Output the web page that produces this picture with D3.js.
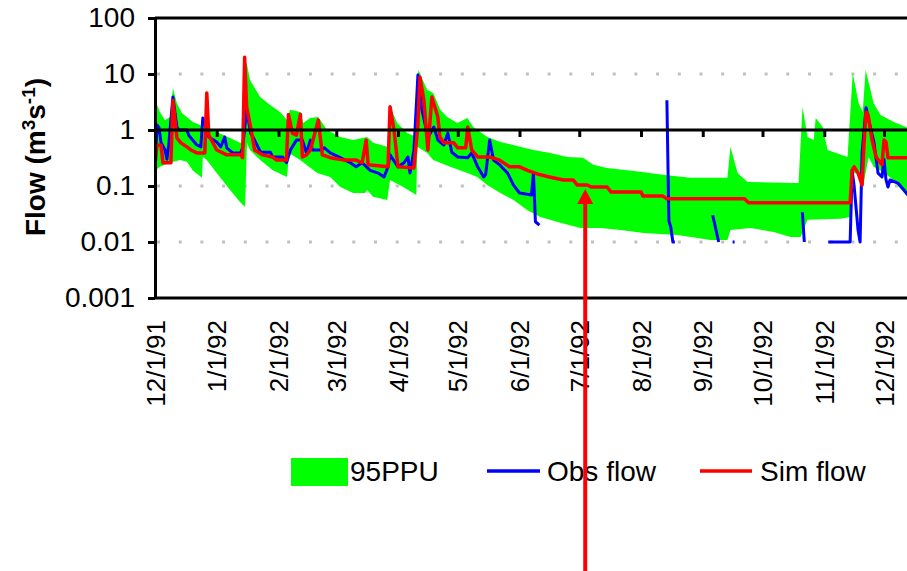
<!DOCTYPE html>
<html>
<head>
<meta charset="utf-8">
<script src="https://cdn.jsdelivr.net/npm/d3@7"></script>
<style>
  html, body { margin: 0; padding: 0; background: #fff; overflow: hidden; }
  svg { display: block; font-family: "Liberation Sans", Arial, Helvetica, sans-serif; }
</style>
</head>
<body>
<svg id="chart" width="907" height="571"></svg>
<script>
// ---- Data -------------------------------------------------------------
// Daily record starting 1 December 1991; x values are days since that date.
const startDate = new Date(1991, 11, 1);

const dateLabels = ["12/1/91", "1/1/92", "2/1/92", "3/1/92", "4/1/92", "5/1/92",
  "6/1/92", "7/1/92", "8/1/92", "9/1/92", "10/1/92", "11/1/92", "12/1/92"];

const yTickValues = [0.001, 0.01, 0.1, 1, 10, 100];
const yTickLabels = ["0.001", "0.01", "0.1", "1", "10", "100"];
const seriesNames = ["95PPU", "Obs flow", "Sim flow"];

// 95% prediction uncertainty band: upper and lower envelopes [day, m3/s]
const bandUpper = [
  [0, 3.4], [2.5, 2.1], [5, 1.5], [7.5, 1.7], [9, 5.6], [11, 3.0], [13.6, 2.0], [16, 1.7],
  [19, 1.39], [22.6, 1.23], [24, 1.09], [26, 1.5], [27.6, 1.0], [31, 0.92], [37.7, 0.72],
  [42.7, 0.59], [44.5, 0.59], [45.2, 16], [46.2, 15], [47.7, 7.8], [52.8, 3.9], [57.8, 2.8],
  [62.8, 2.1], [66.3, 1.5], [67.8, 2.3], [72.9, 2.1], [74.4, 1.33], [77.9, 1.64], [81.9, 1.7],
  [86.4, 1.0], [93, 0.75], [99.5, 0.66], [106.5, 0.75], [109.5, 0.59], [116.6, 0.5],
  [118, 2.6], [121.6, 1.33], [126.6, 0.88], [131.2, 0.75], [132.2, 11.8], [136.7, 5.2],
  [139.7, 4.6], [143.2, 2.3], [146.7, 1.7], [151.8, 1.33], [156.8, 1.64], [159.8, 1.13],
  [166.8, 0.75], [173.4, 0.61], [183.4, 0.5], [190, 0.44], [198.5, 0.39], [207, 0.33],
  [215, 0.32], [220, 0.24], [227, 0.21], [243.7, 0.18], [253.8, 0.16], [268.8, 0.14],
  [287.4, 0.14], [288.9, 0.5], [292.5, 0.17], [297.5, 0.118], [320.6, 0.113], [323.1, 0.113],
  [325.1, 2.6], [327.6, 0.75], [330.7, 0.66], [331.7, 1.64], [335.2, 1.13], [337.7, 0.44],
  [347.7, 0.33], [350.3, 10.4], [353.3, 3.0], [355.3, 2.1], [356.8, 11.8], [360.8, 3.0],
  [364.3, 1.85], [370.9, 1.39], [377.9, 1.09]
];
const bandLower = [
  [0, 0.19], [2.5, 0.22], [7.5, 0.26], [12.6, 0.29], [16, 0.27], [19, 0.19], [23.6, 0.14],
  [24, 0.33], [26, 0.29], [31, 0.17], [37.7, 0.085], [42.7, 0.052], [45.2, 0.042],
  [46.2, 0.59], [47.7, 0.44], [52.8, 0.29], [59.3, 0.19], [66.3, 0.145], [67.3, 0.39],
  [72.9, 0.29], [81.4, 0.17], [88, 0.145], [93, 0.096], [99.5, 0.075], [105.5, 0.075],
  [106.5, 0.085], [109.5, 0.064], [116.6, 0.056], [118, 0.128], [124.6, 0.096],
  [129.6, 0.075], [131.2, 0.069], [131.7, 0.5], [136.7, 0.39], [139.7, 0.29], [148.2, 0.22],
  [156.8, 0.17], [161.8, 0.145], [166.8, 0.104], [173.4, 0.075], [180, 0.056], [187, 0.037],
  [193.5, 0.028], [203.5, 0.022], [213.6, 0.0178], [223.6, 0.0178], [233.7, 0.0164],
  [245.2, 0.0145], [262.3, 0.0133], [272.4, 0.0118], [278.9, 0.0109], [287.4, 0.0109],
  [288.9, 0.0164], [299, 0.0178], [310.6, 0.0151], [319.1, 0.0123], [324.1, 0.0123],
  [327.6, 0.025], [344.2, 0.026], [349.2, 0.028], [350.8, 0.17], [354.3, 0.16],
  [355.8, 0.113], [358.3, 0.33], [360.8, 0.22], [364.3, 0.19], [369.3, 0.14], [377.9, 0.064]
];

// Observed flow [day, m3/s]; null marks days without a record
const obsFlow = [
  [0, 0.18], [1, 1.23], [2, 1.1], [3, 0.6], [5, 0.44], [6, 0.3], [7, 0.6], [9, 3.9],
  [11, 1.13], [12, 1.0], [16, 1.0], [17, 0.8], [21, 0.54], [23, 0.5], [24, 1.64], [26, 1.0],
  [27, 0.75], [31, 0.61], [33, 0.5], [35, 0.75], [36, 0.48], [39, 0.39], [43, 0.39],
  [44, 0.48], [46, 2.3], [48, 0.88], [50, 0.66], [53, 0.4], [58, 0.4], [59, 0.33], [64, 0.33],
  [66, 0.26], [68, 0.44], [71, 0.66], [74, 0.66], [76, 0.39], [78, 0.66], [79, 0.44],
  [83, 0.44], [85, 0.48], [88, 0.39], [93, 0.32], [98, 0.26], [101, 0.22], [104, 0.26],
  [108, 0.19], [112, 0.17], [115, 0.145], [117, 0.22], [118, 0.36], [122, 0.22], [125, 0.26],
  [127, 0.33], [128, 0.17], [130, 0.44], [132, 9.6], [134, 2.3], [137, 0.75], [138, 0.85],
  [140, 1.13], [142, 0.66], [145, 0.54], [147, 0.88], [149, 0.4], [152, 0.33], [157, 0.32],
  [159, 0.39], [162, 0.22], [165, 0.145], [166, 0.16], [168, 0.66], [170, 0.29], [173, 0.24],
  [177, 0.17], [180, 0.104], [183, 0.075], [189, 0.069], [190, 0.17], [191, 0.023],
  [193, 0.02], [194, null],
  [257, 3.4], [258, 0.024], [259, 0.018], [260, 0.01], [261, 0.01], [262, null],
  [280, 0.03], [283, 0.01], [284, null],
  [290, 0.01], [291, 0.01], [292, null],
  [325, 0.034], [326, 0.01], [327, null],
  [338, 0.01], [349, 0.01], [350, 0.19], [351, 0.1], [353, 0.016], [354, 0.01], [355, 0.4],
  [357, 2.5], [358, 1.7], [361, 0.59], [363, 0.17], [365, 0.145], [366, 0.3], [367, 0.13],
  [368, 0.096], [369, 0.128], [373, 0.113], [376, 0.085], [378, 0.069]
];

// Simulated flow [day, m3/s]
const simFlow = [
  [0, 0.24], [1, 0.54], [3, 0.54], [4, 0.26], [8, 0.26], [9, 3.4], [11, 0.72], [13, 0.59],
  [16, 0.5], [18, 0.44], [21, 0.39], [25, 0.39], [26, 4.6], [27, 0.81], [31, 0.44],
  [36, 0.36], [43, 0.36], [44, 0.32], [45, 20], [46, 2.6], [48, 1.13], [50, 0.44],
  [54, 0.36], [59, 0.33], [61, 0.29], [66, 0.29], [67, 1.9], [69, 0.88], [71, 0.81],
  [73, 1.9], [74, 0.33], [76, 0.36], [78, 0.44], [82, 1.5], [84, 0.36], [88, 0.32],
  [95, 0.29], [101, 0.29], [104, 0.26], [106, 0.66], [107, 0.24], [117, 0.22], [118, 2.6],
  [120, 1.0], [122, 0.22], [130, 0.21], [132, 1.23], [133, 8.8], [135, 3.4], [137, 0.44],
  [139, 3.9], [142, 1.7], [143, 0.75], [145, 0.59], [150, 0.59], [152, 0.48], [156, 0.48],
  [157, 1.13], [159, 0.44], [162, 0.33], [168, 0.33], [173, 0.29], [178, 0.22], [183, 0.22],
  [187, 0.19], [193, 0.16], [198, 0.145], [205, 0.128], [210, 0.128], [212, 0.104],
  [217, 0.104], [219, 0.096], [227, 0.096], [229, 0.078], [244, 0.078], [245, 0.066],
  [255, 0.066], [257, 0.059], [296, 0.059], [298, 0.05], [349, 0.05], [350, 0.19],
  [351, 0.22], [353, 0.17], [355, 0.104], [356, 0.59], [357, 2.1], [358, 1.85], [360, 0.66],
  [362, 0.33], [365, 0.24], [366, 0.66], [367, 0.61], [368, 0.32], [378, 0.32]
];

// Annotation arrow pointing at the simulated low flow in early July 1992
const arrowDay = 216;
const arrowFlow = 0.088;

// ---- Layout ------------------------------------------------------------
const W = 907, H = 571;
const plot = { left: 155, top: 18, bottom: 298, right: 907 };
const colors = { band: "#00ff00", obs: "#0000ff", sim: "#ff0000", grid: "#c0c0c0" };

const parseLabel = d3.timeParse("%m/%d/%y");
const monthDays = dateLabels.map(s => d3.timeDay.count(startDate, parseLabel(s)));

const x = d3.scaleLinear().domain([0, 366]).range([plot.left, 884]);
const y = d3.scaleLog().domain([0.001, 100]).range([plot.bottom, plot.top]);

const svg = d3.select("#chart");

svg.append("defs").append("clipPath").attr("id", "plotClip")
  .append("rect")
  .attr("x", plot.left).attr("y", plot.top - 2)
  .attr("width", plot.right - plot.left).attr("height", plot.bottom - plot.top + 4);

// dotted gridlines
svg.append("g").selectAll("line")
  .data([10, 0.1, 0.01])
  .join("line")
  .attr("x1", plot.left).attr("x2", plot.right)
  .attr("y1", d => y(d)).attr("y2", d => y(d))
  .attr("stroke", colors.grid)
  .attr("stroke-width", 3)
  .attr("stroke-dasharray", "3 18.7")
  .attr("stroke-dashoffset", -2);

const plotG = svg.append("g").attr("clip-path", "url(#plotClip)");

// uncertainty band
const lineGen = d3.line().x(d => x(d[0])).y(d => y(d[1]));
plotG.append("path")
  .attr("d", lineGen(bandUpper.concat(bandLower.slice().reverse())) + "Z")
  .attr("fill", colors.band)
  .attr("stroke", "none");

// category axis crossing at 1 m3/s
svg.append("line")
  .attr("x1", plot.left).attr("x2", plot.right)
  .attr("y1", y(1)).attr("y2", y(1))
  .attr("stroke", "#000").attr("stroke-width", 3);

const xAxisG = svg.append("g")
  .attr("transform", `translate(0,${y(1)})`)
  .call(d3.axisBottom(x).tickValues(monthDays).tickSize(7).tickSizeOuter(0).tickFormat(""));
xAxisG.select(".domain").remove();
xAxisG.selectAll(".tick line").attr("stroke", "#000").attr("stroke-width", 3);

// series lines
plotG.append("path")
  .datum(obsFlow)
  .attr("d", d3.line().defined(d => d[1] != null).x(d => x(d[0])).y(d => y(d[1])))
  .attr("fill", "none")
  .attr("stroke", colors.obs)
  .attr("stroke-width", 3)
  .attr("stroke-linejoin", "round");

plotG.append("path")
  .datum(simFlow)
  .attr("d", lineGen)
  .attr("fill", "none")
  .attr("stroke", colors.sim)
  .attr("stroke-width", 3.5)
  .attr("stroke-linejoin", "round");

// plot frame
svg.append("line")
  .attr("x1", plot.left).attr("x2", plot.right)
  .attr("y1", plot.top).attr("y2", plot.top)
  .attr("stroke", "#000").attr("stroke-width", 3);
svg.append("line")
  .attr("x1", plot.left).attr("x2", plot.right)
  .attr("y1", plot.bottom).attr("y2", plot.bottom)
  .attr("stroke", "#000").attr("stroke-width", 3);

// value axis
const yAxisG = svg.append("g")
  .attr("transform", `translate(${plot.left},0)`)
  .call(d3.axisLeft(y).tickValues(yTickValues)
    .tickFormat((d, i) => yTickLabels[i])
    .tickSize(7).tickSizeOuter(0).tickPadding(13));
yAxisG.select(".domain").attr("stroke", "#000").attr("stroke-width", 3);
yAxisG.selectAll(".tick line").attr("stroke", "#000").attr("stroke-width", 3);
yAxisG.selectAll(".tick text")
  .attr("font-family", "Liberation Sans, Arial, sans-serif")
  .attr("font-size", 28).attr("fill", "#000");

// date labels
const dateAxisG = svg.append("g")
  .attr("transform", "translate(0,320)")
  .call(d3.axisBottom(x).tickValues(monthDays).tickSize(0).tickFormat((d, i) => dateLabels[i]));
dateAxisG.select(".domain").remove();
dateAxisG.selectAll(".tick text")
  .attr("font-family", "Liberation Sans, Arial, sans-serif")
  .attr("font-size", 26).attr("fill", "#000")
  .attr("text-anchor", "end")
  .attr("x", 0).attr("y", 0).attr("dy", "0.35em")
  .attr("transform", "rotate(-90)");

// y axis title
const title = svg.append("text")
  .attr("transform", `translate(45,157) rotate(-90)`)
  .attr("text-anchor", "middle")
  .attr("font-size", 28).attr("font-weight", "bold").attr("fill", "#000");
title.append("tspan").text("Flow (m");
title.append("tspan").attr("baseline-shift", "super").attr("font-size", 19).text("3");
title.append("tspan").text("s");
title.append("tspan").attr("baseline-shift", "super").attr("font-size", 19).text("-1");
title.append("tspan").text(")");

// legend
const legend = svg.append("g").attr("font-size", 28).attr("fill", "#000");
legend.append("rect").attr("x", 291).attr("y", 458).attr("width", 57).attr("height", 28)
  .attr("fill", colors.band);
legend.append("text").attr("x", 350).attr("y", 471).attr("dy", "0.35em").text(seriesNames[0]);
legend.append("line").attr("x1", 487).attr("x2", 540).attr("y1", 471).attr("y2", 471)
  .attr("stroke", colors.obs).attr("stroke-width", 3.5);
legend.append("text").attr("x", 547).attr("y", 471).attr("dy", "0.35em").text(seriesNames[1]);
legend.append("line").attr("x1", 700).attr("x2", 752).attr("y1", 471).attr("y2", 471)
  .attr("stroke", colors.sim).attr("stroke-width", 3.5);
legend.append("text").attr("x", 760).attr("y", 471).attr("dy", "0.35em").text(seriesNames[2]);

// annotation arrow
const ax = x(arrowDay), ay = y(arrowFlow);
svg.append("line")
  .attr("x1", ax).attr("x2", ax)
  .attr("y1", H + 5).attr("y2", ay + 12)
  .attr("stroke", colors.sim).attr("stroke-width", 4);
svg.append("path")
  .attr("d", `M${ax},${ay} L${ax - 8},${ay + 15} L${ax + 8},${ay + 15} Z`)
  .attr("fill", colors.sim);
</script>
</body>
</html>
